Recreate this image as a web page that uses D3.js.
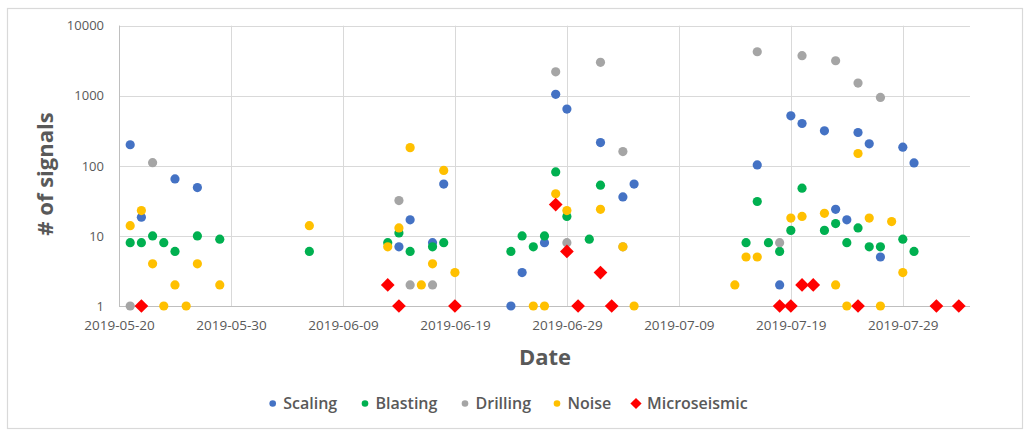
<!DOCTYPE html>
<html><head><meta charset="utf-8">
<script src="https://cdn.jsdelivr.net/npm/d3@7"></script>
<style>body{margin:0;background:#fff;font-family:"Open Sans",sans-serif;}</style>
</head><body><svg id="c" width="1034" height="434"></svg>
<script>
const seriesNames = ["Scaling","Blasting","Drilling","Noise","Microseismic"];
const seriesColors = ["#4472C4","#00B050","#A5A5A5","#FFC000","#FF0000"];
const xTickLabels = ["2019-05-20","2019-05-30","2019-06-09","2019-06-19","2019-06-29","2019-07-09","2019-07-19","2019-07-29"];
const yTickLabels = [1,10,100,1000,10000];

const scalingDates = ["2019-05-21","2019-05-22","2019-05-25","2019-05-27","2019-06-14","2019-06-15","2019-06-17","2019-06-18","2019-06-24","2019-06-25","2019-06-27","2019-06-28","2019-06-29","2019-07-02","2019-07-04","2019-07-05","2019-07-16","2019-07-18","2019-07-19","2019-07-20","2019-07-22","2019-07-23","2019-07-24","2019-07-25","2019-07-26","2019-07-27","2019-07-29","2019-07-30"];
const scalingValues = [200,18.5,65,49,7,17,8,55,1,3,8,1050,645,215,36,55,103,2,518,402,316,24,17,299,206,5,185,110];

const blastingDates = ["2019-05-21","2019-05-22","2019-05-23","2019-05-24","2019-05-25","2019-05-27","2019-05-29","2019-06-06","2019-06-13","2019-06-14","2019-06-15","2019-06-17","2019-06-18","2019-06-24","2019-06-25","2019-06-26","2019-06-27","2019-06-28","2019-06-29","2019-07-01","2019-07-02","2019-07-15","2019-07-16","2019-07-17","2019-07-18","2019-07-19","2019-07-20","2019-07-22","2019-07-23","2019-07-24","2019-07-25","2019-07-26","2019-07-27","2019-07-29","2019-07-30"];
const blastingValues = [8,8,10,8,6,10,9,6,8,11,6,7,8,6,10,7,10,82,19,9,53,8,31,8,6,12,48,12,15,8,13,7,7,9,6];

const drillingDates = ["2019-05-21","2019-05-23","2019-06-14","2019-06-15","2019-06-17","2019-06-28","2019-06-29","2019-07-02","2019-07-04","2019-07-04","2019-07-16","2019-07-18","2019-07-20","2019-07-23","2019-07-25","2019-07-27"];
const drillingValues = [1,111,32,2,2,2200,8,3000,160,7,4250,8,3730,3160,1520,946];

const noiseDates = ["2019-05-21","2019-05-22","2019-05-23","2019-05-24","2019-05-25","2019-05-26","2019-05-27","2019-05-29","2019-06-06","2019-06-13","2019-06-14","2019-06-15","2019-06-16","2019-06-17","2019-06-18","2019-06-19","2019-06-26","2019-06-27","2019-06-28","2019-06-29","2019-07-02","2019-07-04","2019-07-05","2019-07-14","2019-07-15","2019-07-16","2019-07-19","2019-07-20","2019-07-22","2019-07-23","2019-07-24","2019-07-25","2019-07-26","2019-07-27","2019-07-28","2019-07-29"];
const noiseValues = [14,23,4,1,2,1,4,2,14,7,13,182,2,4,86,3,1,1,40,23,24,7,1,2,5,5,18,19,21,2,1,150,18,1,16,3];

const microDates = ["2019-05-22","2019-06-13","2019-06-14","2019-06-19","2019-06-28","2019-06-29","2019-06-30","2019-07-02","2019-07-03","2019-07-18","2019-07-19","2019-07-20","2019-07-21","2019-07-25","2019-08-01","2019-08-03"];
const microValues = [1,2,1,1,28,6,1,3,1,1,1,2,2,1,1,1];

const seriesDates = [scalingDates,blastingDates,drillingDates,noiseDates,microDates];
const seriesValues = [scalingValues,blastingValues,drillingValues,noiseValues,microValues];

const parse = d3.utcParse("%Y-%m-%d");
const svg = d3.select("#c");
const m={l:119,r:970,t:25.7,b:306};

svg.append("rect").attr("x",7.5).attr("y",8.5).attr("width",1015).attr("height",420)
  .attr("fill","#fff").attr("stroke","#d9d9d9").attr("stroke-width",1.2);

const x = d3.scaleUtc().domain([parse("2019-05-20"),parse("2019-08-04")]).range([m.l,m.r]);
const y = d3.scaleLog().domain([1,10000]).range([m.b,m.t]);

const g = svg.append("g");
g.append("g").selectAll("line").data(yTickLabels).join("line")
  .attr("x1",m.l).attr("x2",m.r).attr("y1",d=>Math.round(y(d))+0.5).attr("y2",d=>Math.round(y(d))+0.5)
  .attr("stroke","#d9d9d9").attr("stroke-width",1);
g.append("g").selectAll("line").data(xTickLabels).join("line")
  .attr("x1",d=>Math.round(x(parse(d)))+0.5).attr("x2",d=>Math.round(x(parse(d)))+0.5)
  .attr("y1",m.t).attr("y2",m.b).attr("stroke","#d9d9d9").attr("stroke-width",1);
g.append("line").attr("x1",m.l+0.5).attr("x2",m.l+0.5).attr("y1",m.t).attr("y2",m.b).attr("stroke","#bfbfbf");
g.append("line").attr("x1",m.l).attr("x2",m.r).attr("y1",Math.round(m.b)+0.5).attr("y2",Math.round(m.b)+0.5).attr("stroke","#bfbfbf");

const yAxis = d3.axisLeft(y).tickValues(yTickLabels).tickFormat(d3.format("d")).tickSize(0).tickPadding(15);
const ya = svg.append("g").attr("transform",`translate(${m.l},0)`).call(yAxis);
ya.select(".domain").remove();
ya.selectAll("text").attr("fill","#595959").style("font-size","13px").style("font-family","'Open Sans',sans-serif");

const xAxis = d3.axisBottom(x).tickValues(xTickLabels.map(parse)).tickFormat(d3.utcFormat("%Y-%m-%d")).tickSize(0).tickPadding(14);
const xa = svg.append("g").attr("transform",`translate(0,${m.b})`).call(xAxis);
xa.select(".domain").remove();
xa.selectAll("text").attr("fill","#595959").style("font-size","13.5px").style("font-family","'Open Sans',sans-serif");

svg.append("text").attr("x",545).attr("y",365).attr("text-anchor","middle")
  .attr("fill","#595959").style("font-size","22px").style("font-weight","bold").text("Date");
svg.append("text").attr("transform","translate(53,174) rotate(-90)").attr("text-anchor","middle")
  .attr("fill","#595959").style("font-size","22px").style("font-weight","bold").text("# of signals");

const diamond = d3.symbol().type(d3.symbolDiamond2).size(120);
seriesNames.forEach((name,i)=>{
  const data = seriesDates[i].map((d,j)=>({date:parse(d),value:seriesValues[i][j]}));
  const sg = svg.append("g");
  if(name==="Microseismic"){
    sg.selectAll("path").data(data).join("path")
      .attr("d",diamond)
      .attr("transform",d=>`translate(${x(d.date)},${y(d.value)})`)
      .attr("fill",seriesColors[i]);
  } else {
    sg.selectAll("circle").data(data).join("circle")
      .attr("cx",d=>x(d.date)).attr("cy",d=>y(d.value)).attr("r",4.6)
      .attr("fill",seriesColors[i]);
  }
});

const legX = [272.7,365,465,557,636];
const leg = svg.append("g");
seriesNames.forEach((name,i)=>{
  const lg = leg.append("g").attr("transform",`translate(${legX[i]},403.5)`);
  if(name==="Microseismic"){
    lg.append("path").attr("d",d3.symbol().type(d3.symbolDiamond2).size(80)).attr("fill",seriesColors[i]);
  } else {
    lg.append("circle").attr("r",3.3).attr("fill",seriesColors[i]);
  }
  lg.append("text").attr("x",name==="Microseismic"?11:10.5).attr("y",5.8).attr("fill","#595959")
    .style("font-size","16px").style("font-weight","600").text(name);
});
</script>
</body></html>
